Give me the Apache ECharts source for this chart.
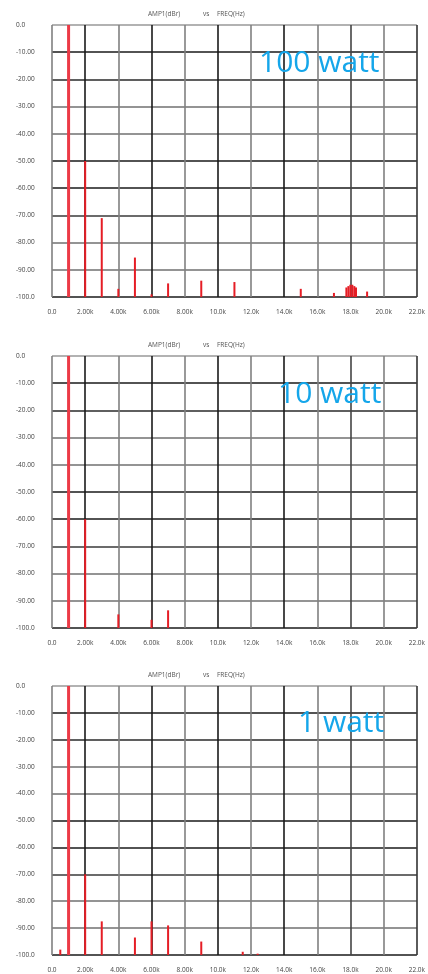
<!DOCTYPE html>
<html><head><meta charset="utf-8">
<script src="https://cdn.jsdelivr.net/npm/echarts@6/dist/echarts.min.js"></script>
<style>html,body{margin:0;padding:0;background:#fff}#c{width:428px;height:974px}</style>
</head><body><div id="c"></div>
<script>
// ---- data ----
const xTicks = ["0.0","2.00k","4.00k","6.00k","8.00k","10.0k","12.0k","14.0k","16.0k","18.0k","20.0k","22.0k"];
const yTicks = ["-100.0","-90.00","-80.00","-70.00","-60.00","-50.00","-40.00","-30.00","-20.00","-10.00","0.0"];
const panelLabels = ["100 watt","10 watt","1 watt"];
const freq100 = [1000,2000,3000,4000,5000,6000,7000,9000,11000,15000,17000,17750,17870,17990,18110,18230,18330,19000];
const amp100  = [0,-50,-71,-97,-85.5,-99,-95,-94,-94.5,-97,-98.5,-96.5,-96,-95.5,-95.5,-96,-96.5,-98];
const freq10 = [1000,2000,4000,6000,7000];
const amp10  = [0,-60,-95,-97,-93.5];
const freq1 = [500,1000,2000,3000,5000,6000,7000,9000,11500,12400];
const amp1  = [-98,0,-70,-87.5,-93.5,-87.5,-89,-95,-98.8,-99.5];

const panels = [[freq100,amp100],[freq10,amp10],[freq1,amp1]];
const tops = [25,356,686];
const H = 272;

const chart = echarts.init(document.getElementById('c'));
const grids=[], xAxes=[], yAxes=[], series=[], graphics=[];
const xCols = ['#808080','#1a1a1a','#808080','#1a1a1a','#808080','#1a1a1a','#808080','#1a1a1a','#808080','#444','#808080','#333'];
const yCols = ['#1a1a1a','#707070','#707070','#3a3a3a','#1a1a1a','#1a1a1a','#707070','#707070','#2a2a2a','#1a1a1a','#999'];
panels.forEach((p,i)=>{
  grids.push({left:52,right:8,top:tops[i],height:H,containLabel:false});
  xAxes.push({type:'value',gridIndex:i,min:0,max:22000,interval:2000,
    axisLine:{show:false},axisTick:{show:false},
    splitLine:{show:true,showMinLine:true,showMaxLine:true,lineStyle:{color:xCols,width:1.6}},
    axisLabel:{margin:12,fontSize:6.5,color:'#444',fontFamily:'Open Sans',
      formatter:(v)=>xTicks[Math.round(v/2000)]}});
  yAxes.push({type:'value',gridIndex:i,min:-100,max:0,interval:10,
    axisLine:{show:false},axisTick:{show:false},
    splitLine:{show:true,showMinLine:true,showMaxLine:true,lineStyle:{color:yCols,width:1.6}},
    axisLabel:{margin:36,align:'left',fontSize:6.5,color:'#444',fontFamily:'Open Sans',
      padding:[3,0,0,0],formatter:(v)=>yTicks[Math.round((v+100)/10)]}});
  const data = p[0].map((f,k)=>[f,p[1][k]]);
  series.push({type:'custom',xAxisIndex:i,yAxisIndex:i,data:data,z:5,
    renderItem:function(params,api){
      const f=api.value(0), a=api.value(1);
      const p0=api.coord([f,-100]); const p1=api.coord([f,a]);
      const fund = a>-1;
      return {type:'line',shape:{x1:p0[0],y1:p0[1],x2:p1[0],y2:p1[1]},
        style:{stroke: fund?'#ec3a46':'#e51d25', lineWidth: fund?3:2}};
    }});
  const ty = tops[i]-14;
  graphics.push({type:'text',left:148,top:ty,style:{text:'AMP1(dBr)',fontSize:6.5,fill:'#555',fontFamily:'Open Sans'}});
  graphics.push({type:'text',left:203,top:ty,style:{text:'vs',fontSize:6.5,fill:'#555',fontFamily:'Open Sans'}});
  graphics.push({type:'text',left:217,top:ty,style:{text:'FREQ(Hz)',fontSize:6.5,fill:'#555',fontFamily:'Open Sans'}});
});
const lblX=[259,278,298], lblY=[48,379,708];
panelLabels.forEach((t,i)=>{
  graphics.push({type:'text',left:lblX[i],top:lblY[i],z:10,style:{text:t,fontSize:30,fill:'#15a6ea',fontFamily:'Open Sans'}});
});
chart.setOption({animation:false,grid:grids,xAxis:xAxes,yAxis:yAxes,series:series,graphic:graphics});
</script></body></html>
